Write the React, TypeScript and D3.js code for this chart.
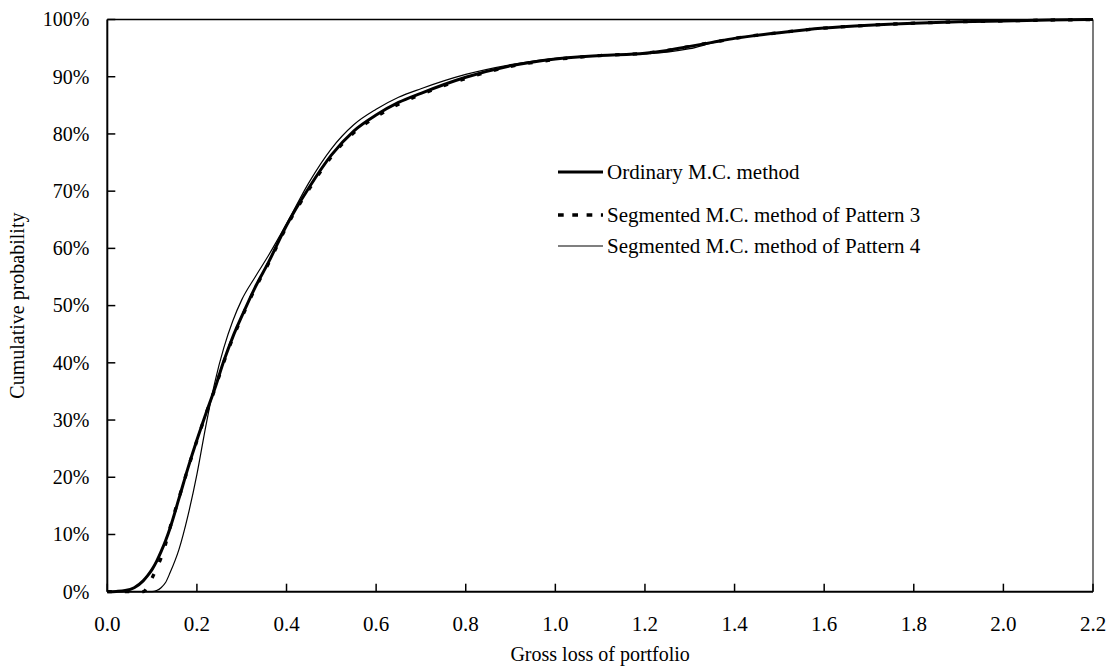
import React from "react";
import * as d3 from "d3";

// gross loss grid shared by the three curves
const lossGrid = [
  0, 0.02, 0.04, 0.06, 0.08, 0.09, 0.1, 0.11, 0.12, 0.13,
  0.14, 0.16, 0.18, 0.2, 0.22, 0.24, 0.26, 0.28, 0.3, 0.33,
  0.36, 0.4, 0.45, 0.5, 0.55, 0.6, 0.65, 0.7, 0.8, 0.9,
  1.0, 1.1, 1.2, 1.25, 1.3, 1.35, 1.4, 1.5, 1.6, 1.7,
  1.8, 1.9, 2.0, 2.1, 2.2,
];

// cumulative probability (%)
const ordinaryMC = [
  0, 0.05, 0.2, 0.7, 1.9, 2.8, 3.9, 5.3, 7.0, 8.9,
  11.1, 16.3, 21.6, 26.5, 31.1, 35.5, 40.3, 44.5, 48.1, 53.2,
  57.6, 64.0, 70.6, 76.3, 80.5, 83.3, 85.5, 87.1, 89.9, 91.9,
  93.1, 93.7, 94.1, 94.6, 95.3, 96.0, 96.7, 97.7, 98.5, 99.0,
  99.35, 99.6, 99.75, 99.9, 100,
];

const pattern3 = [
  0, 0, 0, 0, 0, 0.9, 2.4, 4.1, 5.9, 8.3,
  11.2, 16.4, 21.5, 26.4, 31.0, 35.4, 40.1, 44.3, 47.9, 53.0,
  57.4, 63.8, 70.3, 76.0, 80.2, 83.0, 85.2, 86.9, 89.7, 91.8,
  93.0, 93.7, 94.1, 94.6, 95.3, 96.0, 96.7, 97.7, 98.5, 99.0,
  99.35, 99.6, 99.75, 99.9, 100,
];

const pattern4 = [
  0, 0, 0, 0, 0, 0, 0, 0.2, 0.7, 1.6,
  3.3, 7.4, 13.3, 20.5, 29.0, 36.6, 42.6, 47.3, 51.0, 55.0,
  58.8, 64.3, 71.5, 77.4, 81.6, 84.3, 86.4, 87.9, 90.4, 92.1,
  93.2, 93.7, 94.0, 94.3, 94.9, 95.9, 96.7, 97.7, 98.5, 99.0,
  99.35, 99.6, 99.75, 99.9, 100,
];

const xTicks = [0, 0.2, 0.4, 0.6, 0.8, 1.0, 1.2, 1.4, 1.6, 1.8, 2.0, 2.2];
const yTicks = [0, 10, 20, 30, 40, 50, 60, 70, 80, 90, 100];

const seriesNames = [
  "Ordinary M.C. method",
  "Segmented M.C. method of Pattern 3",
  "Segmented M.C. method of Pattern 4",
];

const font = "Liberation Serif, Times New Roman, Times, DejaVu Serif, serif";

const App = () => {
  const width = 1107;
  const height = 672;
  const left = 107.3;
  const right = 1093;
  const top = 19.5;
  const bottom = 591.7;

  const x = d3.scaleLinear().domain([0, 2.2]).range([left, right]);
  const y = d3.scaleLinear().domain([0, 100]).range([bottom, top]);

  const line = (vals: number[]) =>
    d3
      .line<number>()
      .x((_, i) => x(lossGrid[i]))
      .y((d) => y(d))
      .curve(d3.curveMonotoneX)(vals) || "";

  const series = [
    { name: seriesNames[0], vals: ordinaryMC, w: 3, dash: undefined, legendDash: undefined },
    { name: seriesNames[1], vals: pattern3, w: 3.3, dash: "4.5,13", legendDash: "5.7,8.6" },
    { name: seriesNames[2], vals: pattern4, w: 1.2, dash: undefined, legendDash: undefined },
  ];
  const legendY = [172, 215, 246];

  return (
    <svg
      width={width}
      height={height}
      style={{ position: "absolute", left: 0, top: 0, background: "#fff", fontFamily: font }}
    >
      {/* frame: top & right */}
      <line x1={left} x2={right} y1={top} y2={top} stroke="#000" strokeWidth={1.3} />
      <line x1={right} x2={right} y1={top} y2={bottom} stroke="#333" strokeWidth={1.3} />

      {series.map((s) => (
        <path
          key={s.name}
          d={line(s.vals)}
          fill="none"
          stroke="#000"
          strokeWidth={s.w}
          strokeDasharray={s.dash}
        />
      ))}

      {/* axes */}
      <line x1={left} x2={left} y1={top} y2={bottom} stroke="#000" strokeWidth={2} />
      <line x1={left} x2={right} y1={bottom} y2={bottom} stroke="#000" strokeWidth={2} />

      {yTicks.map((t) => (
        <g key={`y-${t}`} transform={`translate(0, ${y(t)})`}>
          <line x1={left} x2={left + 8} stroke="#000" strokeWidth={1.5} />
          <text x={left - 18} dy="0.34em" textAnchor="end" style={{ fontFamily: font, fontSize: 20 }}>
            {t}%
          </text>
        </g>
      ))}

      {xTicks.map((t) => (
        <g key={`x-${t}`} transform={`translate(${x(t)}, 0)`}>
          <line y1={bottom} y2={bottom - 8} stroke="#000" strokeWidth={1.5} />
          <text y={bottom + 39} textAnchor="middle" style={{ fontFamily: font, fontSize: 21 }}>
            {t.toFixed(1)}
          </text>
        </g>
      ))}

      <text
        x={(left + right) / 2}
        y={661}
        textAnchor="middle"
        style={{ fontFamily: font, fontSize: 20 }}
      >
        Gross loss of portfolio
      </text>
      <text
        transform={`translate(24, ${(top + bottom) / 2}) rotate(-90)`}
        textAnchor="middle"
        style={{ fontFamily: font, fontSize: 20 }}
      >
        Cumulative probability
      </text>

      {/* legend */}
      {series.map((s, i) => (
        <g key={`leg-${s.name}`} transform={`translate(0, ${legendY[i]})`}>
          <line
            x1={558}
            x2={603}
            stroke="#000"
            strokeWidth={s.w}
            strokeDasharray={s.legendDash}
          />
          <text x={607} dy="0.33em" style={{ fontFamily: font, fontSize: 21 }}>
            {s.name}
          </text>
        </g>
      ))}
    </svg>
  );
};

export default App;
